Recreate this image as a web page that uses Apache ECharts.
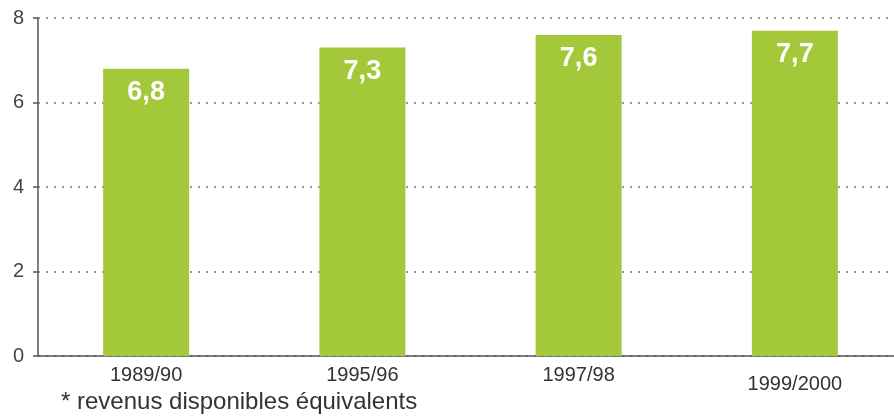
<!DOCTYPE html>
<html><head><meta charset="utf-8">
<script src="https://cdn.jsdelivr.net/npm/echarts@6/dist/echarts.min.js"></script>
<style>html,body{margin:0;padding:0;background:#fff}#c{width:894px;height:417px}</style>
</head><body><div id="c"></div>
<script>
const categories = ['1989/90', '1995/96', '1997/98', '1999/2000'];
const values = [6.8, 7.3, 7.6, 7.7];
const valueLabels = ['6,8', '7,3', '7,6', '7,7'];
const yTicks = [0, 2, 4, 6, 8];
const footnote = '* revenus disponibles équivalents';

const chart = echarts.init(document.getElementById('c'));
chart.setOption({
  animation: false,
  grid: { left: 38, width: 865, top: 18, bottom: 61, containLabel: false, outerBoundsMode: 'none' },
  xAxis: {
    type: 'category',
    data: categories.map((c, i) => i === 3 ? { value: c, textStyle: { padding: [9, 0, 0, 0] } } : c),
    axisLine: { lineStyle: { color: '#555', width: 1.5 } },
    axisTick: { show: false },
    axisLabel: { color: '#333', fontSize: 20, fontFamily: 'Liberation Sans, sans-serif', margin: 9 }
  },
  yAxis: {
    type: 'value', min: 0, max: 8, interval: 2,
    axisLine: { show: true, lineStyle: { color: '#555', width: 1.5 } },
    axisTick: { show: true, length: 5, lineStyle: { color: '#555', width: 1.5 } },
    axisLabel: { color: '#444', fontSize: 20, fontFamily: 'Liberation Sans, sans-serif', margin: 14,
      formatter: v => yTicks.includes(v) ? String(v) : '' },
    splitLine: { show: true, lineStyle: { color: '#999', type: [2, 6], width: 2 } }
  },
  series: [{
    type: 'bar',
    data: values,
    barWidth: 86,
    itemStyle: { color: '#a3c93a' },
    label: {
      show: true, position: 'insideTop', distance: 10,
      formatter: p => valueLabels[p.dataIndex],
      color: '#fff', fontSize: 27, fontWeight: 'bold',
      fontFamily: 'Liberation Sans Narrow, Liberation Sans, sans-serif'
    }
  }],
  graphic: [{
    type: 'text', left: 61, top: 390,
    style: { text: footnote, fill: '#333', fontSize: 24, fontFamily: 'Liberation Sans, sans-serif' }
  }]
});
</script></body></html>
